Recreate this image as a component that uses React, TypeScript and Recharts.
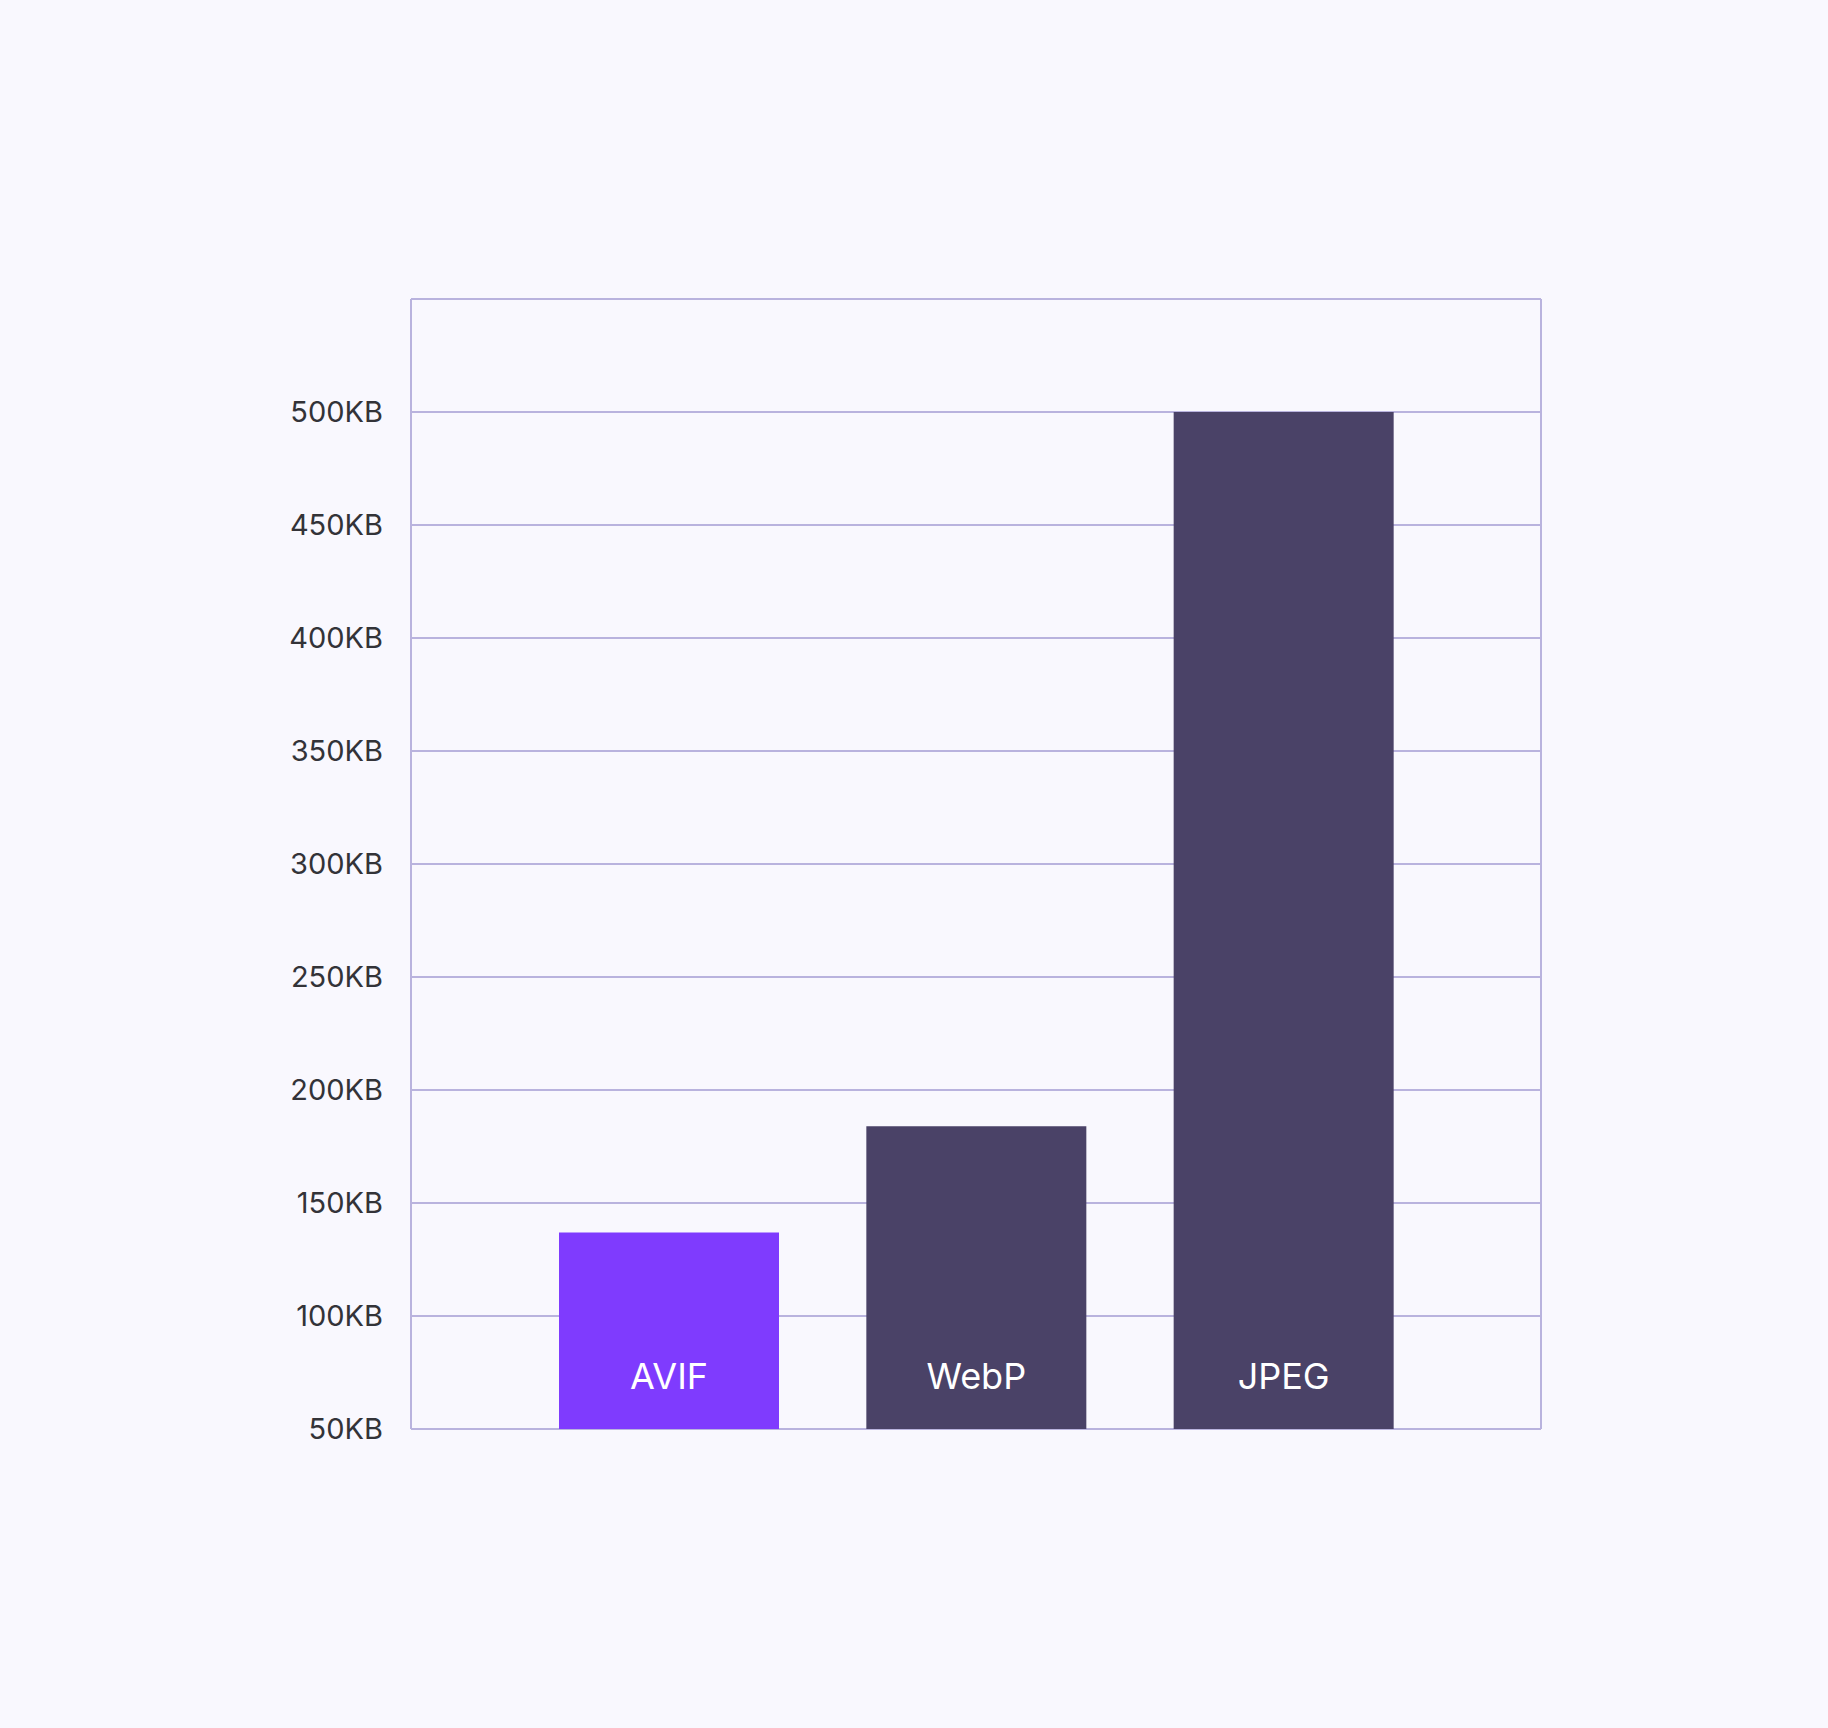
import React from 'react';
import { BarChart, Bar, XAxis, YAxis, CartesianGrid, LabelList, Cell } from 'recharts';

const formats = ['AVIF', 'WebP', 'JPEG'];
const sizesKB = [137, 184, 500];
const barColors = ['#7f3bfe', '#4a4267', '#4a4267'];
const yTicks = [50, 100, 150, 200, 250, 300, 350, 400, 450, 500, 550];

const data = formats.map((name, i) => ({ name, size: sizesKB[i] }));

const GRID = '#b9b3de';
const BG = '#f9f8fe';

export default function App() {
  return (
    <div style={{ position: 'absolute', left: 0, top: 0, width: 1828, height: 1728, background: BG }}>
      <BarChart
        width={1828}
        height={1728}
        data={data}
        margin={{ top: 299, right: 286, bottom: 299, left: 0 }}
        style={{ fontFamily: 'Inter, sans-serif' }}
      >
        <CartesianGrid yAxisId="left" vertical={false} stroke={GRID} strokeWidth={2} />
        <XAxis
          dataKey="name"
          padding={{ left: 104, right: 104 }}
          axisLine={{ stroke: GRID, strokeWidth: 2 }}
          tick={false}
          tickLine={false}
          height={0}
        />
        <YAxis
          yAxisId="left"
          width={411}
          domain={[50, 550]}
          ticks={yTicks}
          interval={0}
          tickFormatter={(v: number) => (v === 550 ? '' : `${v}KB`)}
          axisLine={{ stroke: GRID, strokeWidth: 2 }}
          tickLine={false}
          tickSize={0}
          tickMargin={28}
          tick={{ fill: '#333338', fontSize: 29, fontFamily: 'Inter, sans-serif' }}
        />
        <YAxis
          yAxisId="right"
          orientation="right"
          width={1}
          domain={[50, 550]}
          ticks={yTicks}
          tick={false}
          tickLine={false}
          axisLine={{ stroke: GRID, strokeWidth: 2 }}
        />
        <Bar yAxisId="left" dataKey="size" barSize={220} isAnimationActive={false}>
          {data.map((d, i) => (
            <Cell key={d.name} fill={barColors[i]} />
          ))}
          <LabelList
            dataKey="name"
            position="insideBottom"
            offset={40}
            fill="#ffffff"
            style={{ fontSize: 36, fontFamily: 'Inter, sans-serif' }}
          />
        </Bar>
      </BarChart>
    </div>
  );
}
